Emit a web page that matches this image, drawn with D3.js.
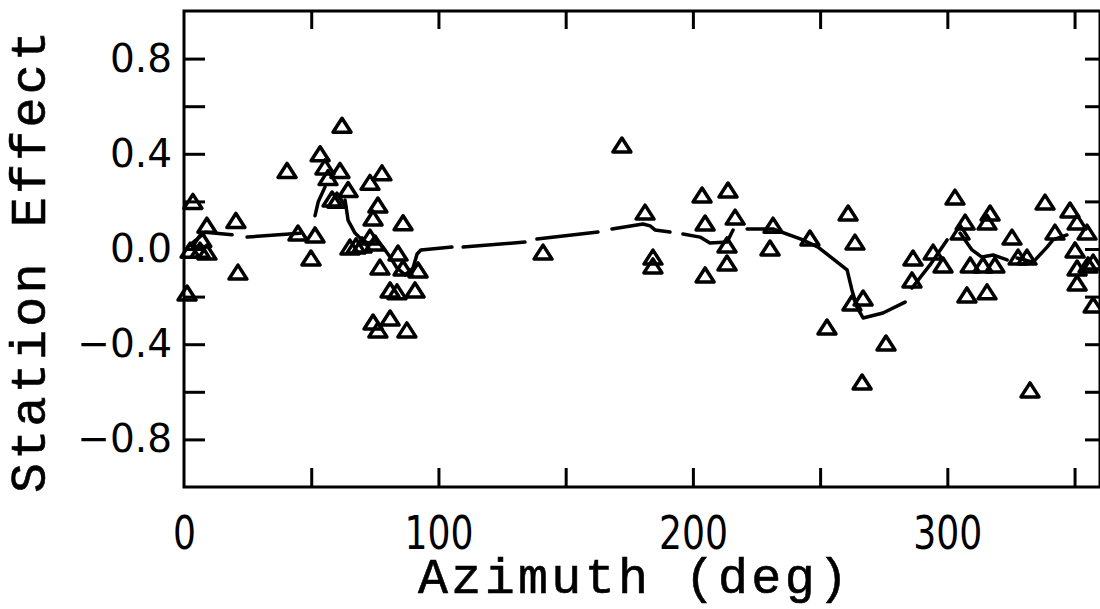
<!DOCTYPE html>
<html>
<head>
<meta charset="utf-8">
<script src="https://cdn.jsdelivr.net/npm/d3@7"></script>
<style>
  html, body { margin: 0; padding: 0; background: #fff; }
  svg { display: block; }
</style>
</head>
<body>
<svg id="chart" width="1100" height="609"></svg>
<script>
// Station effect per observation, by azimuth (deg)
const azimuth = [
  1.2, 3.5, 9.0, 7.0, 6.3, 9.0, 2.4, 20.4, 21.2,
  40.5, 44.8, 51.5, 49.9, 62.1, 53.5, 55.4, 61.3, 56.6, 64.5, 58.2, 60.1,
  77.8, 73.1, 76.2, 74.3, 86.1, 65.2, 67.6, 70.0, 73.1, 75.1, 77.0, 84.1,
  86.1, 92.0, 81.0, 83.7, 90.8, 74.3, 76.2, 81.0, 87.6,
  141.1, 172.1, 181.2, 184.3, 184.3, 203.6, 213.8, 204.8, 216.6, 213.4,
  213.4, 204.8, 231.5, 230.3, 246.0, 261.0, 263.7, 262.5, 266.9, 252.7,
  275.9, 266.5, 286.5, 286.1, 294.4, 298.3,
  303.0, 307.0, 305.0, 316.8, 315.6, 325.4, 309.0, 314.0, 318.7, 307.7,
  315.6, 327.8, 331.3, 332.5, 338.4, 342.3, 348.2, 351.0, 354.9, 350.2,
  351.0, 355.3, 351.0, 357.3, 357.3
];
const effect = [
  -0.185, 0.20, 0.10, 0.04, -0.005, -0.013, -0.005, 0.12, -0.097,
  0.33, 0.067, 0.059, -0.038, 0.52, 0.40, 0.345, 0.33, 0.30, 0.25, 0.21, 0.205,
  0.32, 0.28, 0.185, 0.13, 0.11, 0.008, 0.013, 0.017, 0.05, 0.025, -0.076, -0.017,
  -0.08, -0.088, -0.172, -0.18, -0.172, -0.307, -0.34, -0.29, -0.34,
  -0.013, 0.437, 0.155, -0.034, -0.071, 0.227, 0.248, 0.109, 0.134, 0.017,
  -0.059, -0.109, 0.10, 0.004, 0.046, 0.151, 0.029, -0.227, -0.206, -0.328,
  -0.395, -0.559, -0.038, -0.13, -0.013, -0.067,
  0.218, 0.113, 0.071, 0.151, 0.113, 0.05, -0.067, -0.067, -0.067, -0.193,
  -0.18, -0.034, -0.034, -0.592, 0.197, 0.071, 0.164, 0.113, 0.071, -0.004,
  -0.08, -0.067, -0.143, -0.235, -0.055
];

// Smoothed station-effect curve; null marks a pen lift
const curveAz = [
  1.6, 8.3, 18.9, null,
  24.8, 45.5, null,
  51.5, 52.8, 55.4, null,
  63.3, 64.5, 67.2, 70.0, 72.3, 75.9, 78.2, 81.0, 83.7, 86.9, 90.0, 91.6, 93.1, 105.3, null,
  109.7, 134.0, null,
  138.7, 162.7, null,
  168.2, 180.4, 183.2, 185.1, 191.0, null,
  196.1, 202.8, 206.7, 213.4, 215.8, null,
  221.3, 231.5, 243.3, 249.2, 260.6, 262.5, 264.5, 266.9, 274.7, 283.4, null,
  286.1, 293.2, 299.9, null,
  305.0, 309.7, 313.6, 318.0, 323.5, null,
  327.4, 333.7, 339.2, 341.5, 347.0
];
const curveEffect = [
  0.01, 0.07, 0.06, null,
  0.05, 0.066, null,
  0.14, 0.20, 0.26, null,
  0.206, 0.12, 0.067, 0.038, 0.025, 0.038, 0.008, -0.034, -0.08, -0.109, -0.08, -0.021, -0.004, 0.008, null,
  0.008, 0.029, null,
  0.042, 0.071, null,
  0.084, 0.105, 0.097, 0.08, 0.071, null,
  0.063, 0.05, 0.025, 0.029, 0.08, null,
  0.084, 0.084, 0.038, 0.008, -0.088, -0.172, -0.244, -0.29, -0.269, -0.223, null,
  -0.164, -0.067, 0.038, null,
  0.067, -0.004, -0.034, -0.025, -0.046, null,
  -0.038, -0.055, 0.008, 0.038, 0.059
];

// Axes
const xDomain = [0, 360];
const yDomain = [-1, 1];
const xTickValues = [50, 100, 150, 200, 250, 300, 350];
const xLabelValues = [0, 100, 200, 300];
const yTickValues = [-0.8, -0.6, -0.4, -0.2, 0, 0.2, 0.4, 0.6, 0.8];
const yLabelValues = [-0.8, -0.4, 0, 0.4, 0.8];
const xTitle = "Azimuth (deg)";
const yTitle = "Station Effect";

const svg = d3.select("#chart");
const plotLeft = 184, plotRight = 1100, plotTop = 11, plotBottom = 487;

const x = d3.scaleLinear().domain(xDomain).range([plotLeft, plotRight]);
const y = d3.scaleLinear().domain(yDomain).range([plotBottom, plotTop]);

const ink = "#000";

// Curve
const points = curveAz.map((a, i) => (a === null ? null : [a, curveEffect[i]]));
const line = d3.line()
  .defined(d => d !== null)
  .x(d => x(d[0]))
  .y(d => y(d[1]));
svg.append("path")
  .attr("d", line(points))
  .attr("fill", "none")
  .attr("stroke", ink)
  .attr("stroke-width", 3.5)
  .attr("stroke-linecap", "round")
  .attr("stroke-linejoin", "round");

// Open triangles for the observations
const triHalfW = 9, triHalfH = 7;
svg.append("g")
  .selectAll("path")
  .data(azimuth.map((a, i) => [a, effect[i]]))
  .join("path")
  .attr("d", d => {
    const cx = x(d[0]), cy = y(d[1]);
    return `M${cx},${cy - triHalfH}L${cx + triHalfW},${cy + triHalfH}L${cx - triHalfW},${cy + triHalfH}Z`;
  })
  .attr("fill", "none")
  .attr("stroke", ink)
  .attr("stroke-width", 3.5)
  .attr("stroke-linejoin", "round");

// Frame
svg.append("rect")
  .attr("x", plotLeft).attr("y", plotTop)
  .attr("width", plotRight - plotLeft).attr("height", plotBottom - plotTop)
  .attr("fill", "none")
  .attr("stroke", ink)
  .attr("stroke-width", 3);

function styleTicks(g) {
  g.select(".domain").remove();
  g.selectAll(".tick line").attr("stroke", ink).attr("stroke-width", 3);
}

// Inward tick marks on all four sides
svg.append("g").attr("transform", `translate(0,${plotBottom})`)
  .call(d3.axisBottom(x).tickValues(xTickValues).tickSize(-19).tickFormat(""))
  .call(styleTicks);
svg.append("g").attr("transform", `translate(0,${plotTop})`)
  .call(d3.axisTop(x).tickValues(xTickValues).tickSize(-18).tickFormat(""))
  .call(styleTicks);
svg.append("g").attr("transform", `translate(${plotLeft},0)`)
  .call(d3.axisLeft(y).tickValues(yTickValues).tickSize(-21).tickFormat(""))
  .call(styleTicks);
svg.append("g").attr("transform", `translate(${plotRight},0)`)
  .call(d3.axisRight(y).tickValues(yTickValues).tickSize(-15).tickFormat(""))
  .call(styleTicks);

// Tick labels
const xLabels = svg.append("g").attr("transform", `translate(0,${plotBottom})`)
  .call(d3.axisBottom(x).tickValues(xLabelValues).tickSize(0).tickPadding(29).tickFormat(d3.format("d")));
xLabels.select(".domain").remove();
xLabels.selectAll("text")
  .attr("fill", ink)
  .style("font-family", "'DejaVu Sans', sans-serif")
  .style("font-size", "46px")
  .attr("textLength", function () { return this.textContent.length * 23; })
  .attr("lengthAdjust", "spacingAndGlyphs");

const yLabels = svg.append("g").attr("transform", `translate(${plotLeft},0)`)
  .call(d3.axisLeft(y).tickValues(yLabelValues).tickSize(0).tickPadding(12).tickFormat(d3.format(".1f")));
yLabels.select(".domain").remove();
yLabels.selectAll("text")
  .attr("fill", ink)
  .style("font-family", "'DejaVu Sans', sans-serif")
  .style("font-size", "39px");

// Axis titles
svg.append("text")
  .attr("x", 633).attr("y", 593)
  .attr("text-anchor", "middle")
  .attr("textLength", 430)
  .attr("lengthAdjust", "spacing")
  .style("font-family", "'Liberation Mono', 'Courier New', monospace")
  .style("font-size", "50px")
  .attr("fill", ink)
  .attr("stroke", ink).attr("stroke-width", 0.6)
  .text(xTitle);

svg.append("text")
  .attr("transform", "translate(45,262) rotate(-90)")
  .attr("text-anchor", "middle")
  .attr("textLength", 462)
  .attr("lengthAdjust", "spacing")
  .style("font-family", "'Liberation Mono', 'Courier New', monospace")
  .style("font-size", "50px")
  .attr("fill", ink)
  .attr("stroke", ink).attr("stroke-width", 0.6)
  .text(yTitle);
</script>
</body>
</html>
